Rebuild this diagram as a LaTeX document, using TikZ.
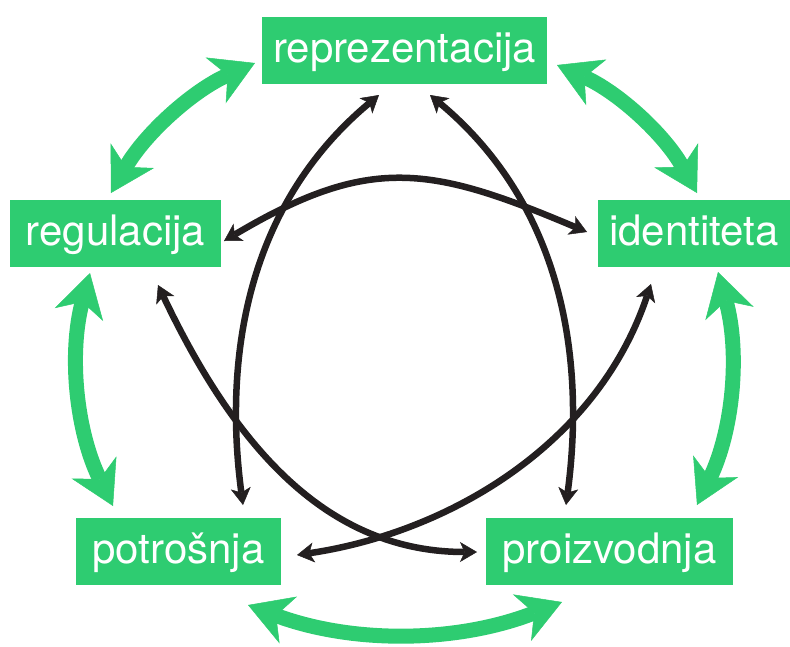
\documentclass[tikz,border=0pt]{standalone}
\usepackage{fontspec}
\setmainfont{TeX Gyre Heros}
\usetikzlibrary{arrows.meta}
\definecolor{grn}{HTML}{2ECC71}
\definecolor{blk}{HTML}{231F20}
\begin{document}
\begin{tikzpicture}[x=1pt,y=-1pt,
  box/.style={fill=grn, text=white, inner sep=0pt, minimum height=67pt,
    text height=30pt, text depth=7pt, font=\fontsize{42}{42}\selectfont},
  gtip/.tip={Stealth[length=43pt,width=50pt,inset=13pt,line width=0.5pt]},
  btip/.tip={Stealth[length=17pt,width=20pt,inset=4.5pt,line width=0.5pt]},
  garrow/.style={draw=grn, line width=15pt, {gtip}-{gtip}},
  barrow/.style={draw=blk, line width=6.5pt, {btip}-{btip}}]
\useasboundingbox (0,0) rectangle (790,646);

% boxes
\node[box, minimum width=285pt] (rep) at (404.5,50.5) {reprezentacija};
\node[box, minimum width=211pt] (reg) at (115.5,233.5) {regulacija};
\node[box, minimum width=192pt] (ide) at (694,233.5) {identiteta};
\node[box, minimum width=205pt] (pot) at (178.5,551.5) {potrošnja};
\node[box, minimum width=247pt] (pro) at (609.5,551.5) {proizvodnja};

% green arrow ends
\coordinate (g-rep-l) at (255,63);
\coordinate (g-reg-t) at (111,193);
\coordinate (g-rep-r) at (557,65);
\coordinate (g-ide-t) at (697,193);
\coordinate (g-ide-b) at (718,272);
\coordinate (g-pro-t) at (697,505);
\coordinate (g-pro-b) at (562,602);
\coordinate (g-pot-b) at (248,605);
\coordinate (g-pot-t) at (113,506);
\coordinate (g-reg-b) at (90,273);

\draw[garrow] (g-rep-l) .. controls (192.7,90.5) and (144.7,133.9) .. (g-reg-t);
\draw[garrow] (g-rep-r) .. controls (618.1,92) and (664.7,134.6) .. (g-ide-t);
\draw[garrow] (g-ide-b) .. controls (740.2,352.3) and (733.2,429.9) .. (g-pro-t);
\draw[garrow] (g-pro-b) .. controls (457.3,643) and (352.7,644) .. (g-pot-b);
\draw[garrow] (g-reg-b) .. controls (68.5,353.6) and (76.1,431.2) .. (g-pot-t);

% black arrow ends
\coordinate (b-rep-l) at (379,95);
\coordinate (b-pot-t) at (243,505);
\coordinate (b-rep-r) at (430,95);
\coordinate (b-pro-t) at (566,505);
\coordinate (b-reg-r) at (224,241);
\coordinate (b-ide-l) at (587,232);
\coordinate (b-reg-b) at (158,285);
\coordinate (b-pro-l) at (477,552);
\coordinate (b-ide-b) at (651,284);
\coordinate (b-pot-r) at (297,555);

\draw[barrow] (b-rep-l) .. controls (248,204) and (223,355) .. (b-pot-t);
\draw[barrow] (b-rep-r) .. controls (561,204) and (586,355) .. (b-pro-t);
\draw[barrow] (b-reg-r) .. controls (370,154) and (431,166) .. (b-ide-l);
\draw[barrow] (b-reg-b) .. controls (235,447) and (327,552) .. (b-pro-l);
\draw[barrow] (b-ide-b) .. controls (597,446) and (447,533) .. (b-pot-r);
\end{tikzpicture}
\end{document}
